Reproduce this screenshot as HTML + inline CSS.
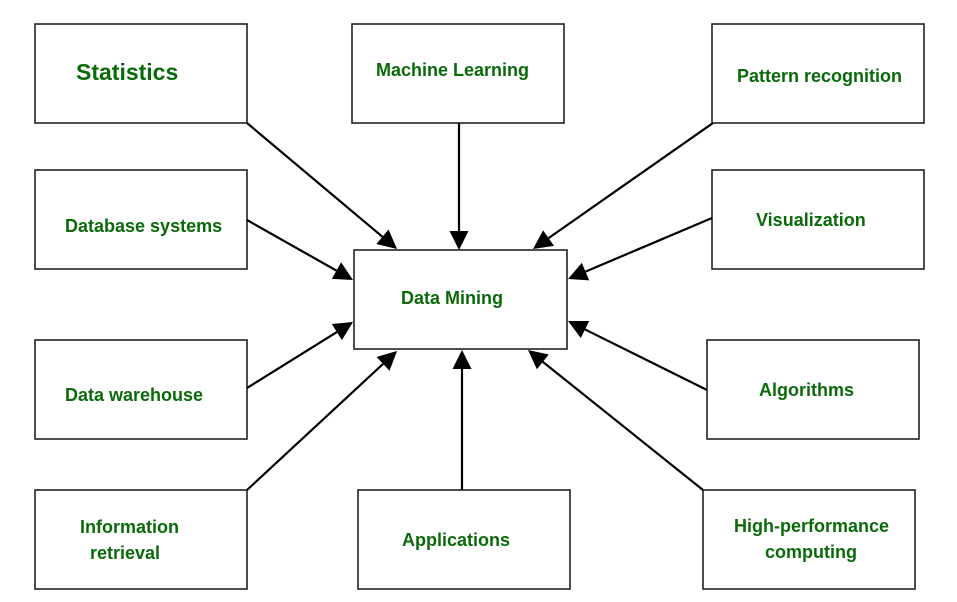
<!DOCTYPE html>
<html><head><meta charset="utf-8"><style>
html,body{margin:0;padding:0;background:#fff;}
svg{display:block;}
text{font-family:"Liberation Sans",sans-serif;font-weight:bold;fill:#0a6a0a;font-size:18px;}
</style></head><body>
<svg width="957" height="602" viewBox="0 0 957 602" xmlns="http://www.w3.org/2000/svg">
<g fill="#fff" stroke="#222" stroke-width="1.6">
<rect x="35" y="24" width="212" height="99"/>
<rect x="352" y="24" width="212" height="99"/>
<rect x="712" y="24" width="212" height="99"/>
<rect x="35" y="170" width="212" height="99"/>
<rect x="712" y="170" width="212" height="99"/>
<rect x="354" y="250" width="213" height="99"/>
<rect x="35" y="340" width="212" height="99"/>
<rect x="707" y="340" width="212" height="99"/>
<rect x="35" y="490" width="212" height="99"/>
<rect x="358" y="490" width="212" height="99"/>
<rect x="703" y="490" width="212" height="99"/>
</g>
<g stroke="#000" stroke-width="2.2" fill="#000" id="arrows"></g>
<text x="76" y="80" style="font-size:23px">Statistics</text>
<text x="376" y="76">Machine Learning</text>
<text x="737" y="82">Pattern recognition</text>
<text x="65" y="232">Database systems</text>
<text x="756" y="226">Visualization</text>
<text x="401" y="304">Data Mining</text>
<text x="65" y="401">Data warehouse</text>
<text x="759" y="396">Algorithms</text>
<text x="80" y="533">Information</text>
<text x="90" y="559">retrieval</text>
<text x="402" y="546">Applications</text>
<text x="734" y="532">High-performance</text>
<text x="765" y="558">computing</text>
<script>
var A=[[247,123,397,249],[459,123,459,250],[713,123,533,249],[247,220,353,280],[712,218,568,279],[247,388,353,322],[707,390,568,321],[247,490,397,351],[462,490,462,350],[703,490,528,350]];
var g=document.getElementById('arrows'),ns='http://www.w3.org/2000/svg';
A.forEach(function(a){var dx=a[2]-a[0],dy=a[3]-a[1],L=Math.hypot(dx,dy),ux=dx/L,uy=dy/L,h=19,w=9.5;
var bx=a[2]-ux*h,by=a[3]-uy*h;
var l=document.createElementNS(ns,'line');l.setAttribute('x1',a[0]);l.setAttribute('y1',a[1]);l.setAttribute('x2',bx);l.setAttribute('y2',by);g.appendChild(l);
var p=document.createElementNS(ns,'polygon');p.setAttribute('stroke','none');
p.setAttribute('points',a[2]+','+a[3]+' '+(bx-uy*w)+','+(by+ux*w)+' '+(bx+uy*w)+','+(by-ux*w));g.appendChild(p);});
</script>
</svg>
</body></html>
